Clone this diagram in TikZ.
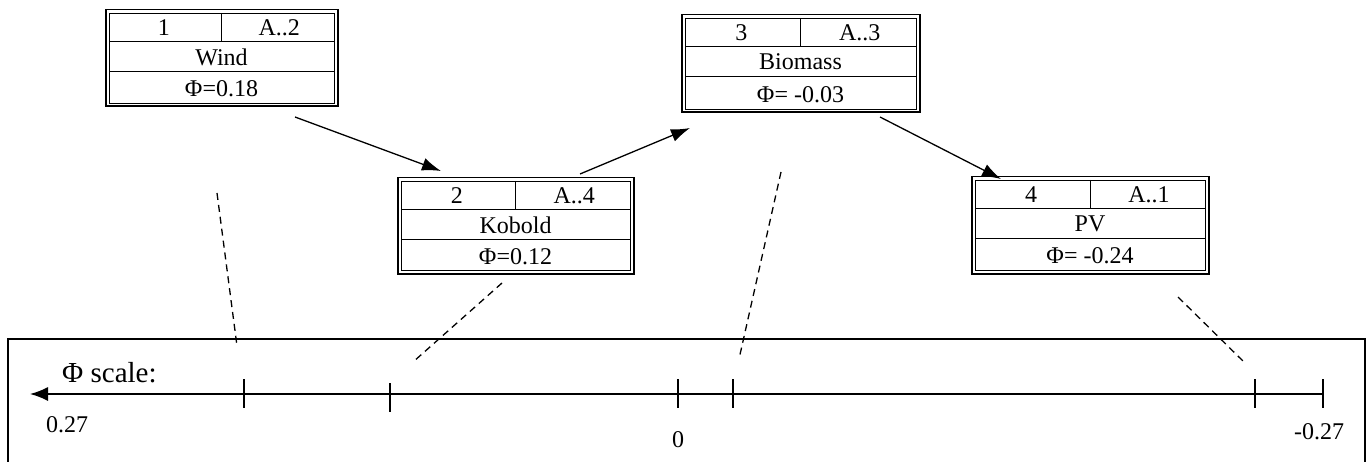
\documentclass[tikz,border=0pt]{standalone}
\usepackage{fontspec}
\setmainfont{Liberation Serif}
\usetikzlibrary{arrows.meta,calc}
\tikzset{
  boxtxt/.style={font=\fontsize{24}{28}\selectfont, inner sep=0pt},
  axtxt/.style={font=\fontsize{24}{28}\selectfont, inner sep=0pt},
  bigtxt/.style={font=\fontsize{29}{34}\selectfont, inner sep=0pt},
  boxframe/.style={draw, line width=1pt, inner sep=0pt, rectangle},
  rowline/.style={line width=0.8pt},
  conn/.style={line width=1.3pt, -{Latex[length=19pt,width=13pt]}},
  guide/.style={line width=1.3pt, dash pattern=on 7pt off 5pt},
  tickmark/.style={line width=1.5pt},
}
\newcommand\mybox[9]{%
  \node[boxframe, minimum width={#4-#2}, minimum height={#5-#3}] (#1) at ({(#2+#4)/2},{(#3+#5)/2}) {};
  \draw[line width=2pt] (#1.north west) |- (#1.south east) -- (#1.north east);
  \draw[rowline] ($(#1.north west)+(3.5,3.5)$) rectangle ($(#1.south east)+(-3.5,-3.5)$);
  \draw[rowline] ($(#1.north west)+(3.5,32)$) -- ($(#1.north east)+(-3.5,32)$);
  \draw[rowline] ($(#1.north west)+(3.5,62)$) -- ($(#1.north east)+(-3.5,62)$);
  \draw[rowline] ($(#1.north)+(0,3.5)$) -- ($(#1.north)+(0,32)$);
  \node[boxtxt] (#1-l) at ({(3*#2+#4)/4},{#3+18}) {#6};
  \node[boxtxt] (#1-r) at ({(#2+3*#4)/4},{#3+18}) {#7};
  \node[boxtxt] (#1-m) at ({(#2+#4)/2},{#3+47}) {#8};
  \node[boxtxt] (#1-p) at ({(#2+#4)/2},{(#3+62+#5)/2}) {#9};
}
\begin{document}
\begin{tikzpicture}[x=1pt,y=-1pt]
\useasboundingbox[fill=white] (0,0) rectangle (1367,462);

% boxes
\mybox{wind}{106}{10}{337}{106}{1}{A..2}{Wind}{Φ=0.18}
\mybox{kobold}{398}{178}{633}{273}{2}{A..4}{Kobold}{Φ=0.12}
\mybox{bio}{682}{15}{919}{112}{3}{A..3}{Biomass}{Φ= -0.03}
\mybox{pv}{972}{177}{1208}{273}{4}{A..1}{PV}{Φ= -0.24}

% connectors
\coordinate (a1s) at (295,117); \coordinate (a1e) at (441,171);
\coordinate (a2s) at (580,174); \coordinate (a2e) at (690,128);
\coordinate (a3s) at (880,117); \coordinate (a3e) at (1001,179);
\draw[conn] (a1s) -- (a1e);
\draw[conn] (a2s) -- (a2e);
\draw[conn] (a3s) -- (a3e);

% scale frame
\draw[line width=1.3pt] (8,470) -- (8,339) -- (1365,339) -- (1365,470);

% axis
\coordinate (axL) at (30,394);
\coordinate (axR) at (1323,394);
\draw[line width=1.5pt, -{Latex[length=18pt,width=14pt]}] (axR) -- (axL);
\foreach \x/\a/\b in {244/379/408, 390/383/412, 678/379/408, 733/379/408, 1255/379/408, 1323/379/408}
  \draw[tickmark] (\x,\a) -- (\x,\b);

\node[bigtxt, anchor=base west] (scl) at (62,382) {Φ scale:};
\node[axtxt] (l1) at (67,425) {0.27};
\node[axtxt] (l0) at (678,440) {0};
\node[axtxt] (l2) at (1319,432) {-0.27};

% dashed guides
\coordinate (d1s) at (217,193); \coordinate (d1e) at (237,346);
\coordinate (d2s) at (502,283); \coordinate (d2e) at (413,362);
\coordinate (d3s) at (781,172); \coordinate (d3e) at (739,359);
\coordinate (d4s) at (1178,297); \coordinate (d4e) at (1246,364);
\draw[guide] (d1s) -- (d1e);
\draw[guide] (d2s) -- (d2e);
\draw[guide] (d3s) -- (d3e);
\draw[guide] (d4s) -- (d4e);
\end{tikzpicture}
\end{document}
